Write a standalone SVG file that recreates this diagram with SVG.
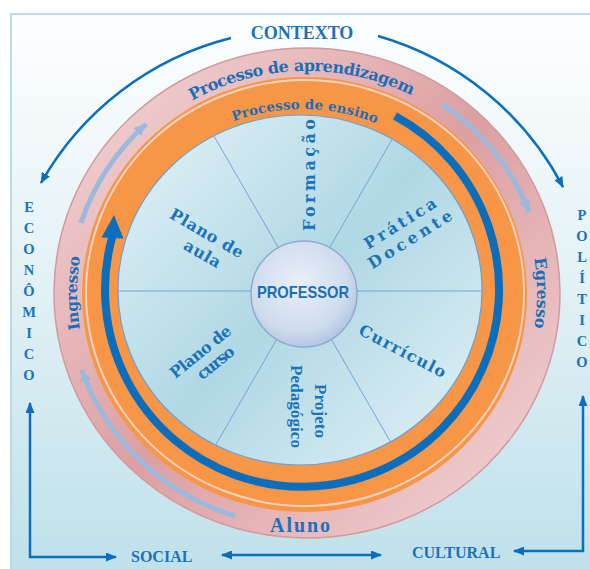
<svg xmlns="http://www.w3.org/2000/svg" width="590" height="569" viewBox="0 0 590 569">
  <defs>
    <linearGradient id="bg" x1="0" y1="14" x2="0" y2="569" gradientUnits="userSpaceOnUse">
      <stop offset="0" stop-color="#fdfeff"/>
      <stop offset="0.45" stop-color="#e4f2f6"/>
      <stop offset="1" stop-color="#bfe1ea"/>
    </linearGradient>
    <linearGradient id="pinkGrad" x1="60" y1="50" x2="555" y2="540" gradientUnits="userSpaceOnUse">
      <stop offset="0" stop-color="#f4d9da"/>
      <stop offset="0.5" stop-color="#dc9fa2"/>
      <stop offset="1" stop-color="#f4d9da"/>
    </linearGradient>
    <linearGradient id="discGrad" x1="118" y1="115" x2="482" y2="465" gradientUnits="userSpaceOnUse">
      <stop offset="0" stop-color="#e6f3f8"/>
      <stop offset="0.5" stop-color="#afd8e4"/>
      <stop offset="1" stop-color="#e4f2f7"/>
    </linearGradient>
    <radialGradient id="hubGrad" cx="0.45" cy="0.4" r="0.65">
      <stop offset="0" stop-color="#e9eff8"/>
      <stop offset="0.7" stop-color="#cfdbed"/>
      <stop offset="1" stop-color="#abc0de"/>
    </radialGradient>
    <clipPath id="discClip">
      <ellipse cx="300" cy="290" rx="182" ry="175"/>
    </clipPath>
    <marker id="ah" viewBox="0 0 11 9" refX="10" refY="4.5" markerWidth="11" markerHeight="9" markerUnits="userSpaceOnUse" orient="auto-start-reverse">
      <path d="M0,0 L11,4.5 L0,9 z" fill="#0b6fbe"/>
    </marker>
    <marker id="ahLight" viewBox="0 0 13 11" refX="12" refY="5.5" markerWidth="13" markerHeight="11" markerUnits="userSpaceOnUse" orient="auto">
      <path d="M0,0 L13,5.5 L0,11 z" fill="#9bb9dc"/>
    </marker>
    <!-- clockwise text paths, starting at the bottom of each ring -->
    <path id="learnPath" d="M307,515 A230,222 0 0 1 77,293 A230,222 0 0 1 307,71 A230,222 0 0 1 537,293 A230,222 0 0 1 307,515"/>
    <path id="teachPath" d="M302,481 A192,186 0 0 1 110,295 A192,186 0 0 1 302,109 A192,186 0 0 1 494,295 A192,186 0 0 1 302,481"/>
    <style>
      .ring { font-family: "DejaVu Serif", "Liberation Serif", serif; font-weight: bold; fill: #1b6fb9; }
      .sec { font-family: "DejaVu Serif", "Liberation Serif", serif; font-weight: bold; fill: #1a73ba; font-size: 16px; }
      .ctx { font-family: "Liberation Serif", serif; font-weight: bold; fill: #1b72ba; }
      .vert { font-family: "Liberation Serif", serif; font-weight: bold; fill: #1b72ba; font-size: 14.5px; text-anchor: middle; }
      .conn { fill: none; stroke: #0b6fbe; stroke-width: 2.5; }
      .flow { fill: none; stroke: #9bb9dc; stroke-width: 5; }
      .spoke { stroke: #76a3d8; stroke-width: 1; }
    </style>
  </defs>

  <!-- page and frame -->
  <rect x="0" y="0" width="590" height="569" fill="#ffffff"/>
  <rect x="11" y="14" width="600" height="600" fill="url(#bg)" stroke="#a6d2de" stroke-width="1.5"/>

  <!-- outer ring: learning process -->
  <g id="ring-aprendizagem">
    <ellipse cx="307" cy="293" rx="253" ry="245" fill="url(#pinkGrad)" stroke="#d3999d" stroke-width="1.5"/>
    <text class="ring" font-size="16"><textPath href="#learnPath" startOffset="49.6%" text-anchor="middle" textLength="228">Processo de aprendizagem</textPath></text>
    <text class="ring" font-size="15.5"><textPath href="#learnPath" startOffset="25%" text-anchor="middle" textLength="73">Ingresso</textPath></text>
    <text class="ring" font-size="16"><textPath href="#learnPath" startOffset="75%" text-anchor="middle" textLength="70">Egresso</textPath></text>
    <text class="ctx" x="300" y="532" font-size="20" text-anchor="middle" textLength="60">Aluno</text>
  </g>

  <!-- middle ring: teaching process -->
  <g id="ring-ensino">
    <ellipse cx="304.5" cy="294.5" rx="222.5" ry="217.5" fill="#f79646"/>
    <ellipse cx="305" cy="293" rx="219" ry="213" fill="none" stroke="#fbd3c2" stroke-width="2"/>
    <text class="ring" font-size="13.5"><textPath href="#teachPath" startOffset="50.25%" text-anchor="middle" textLength="146">Processo de ensino</textPath></text>
  </g>

  <!-- inner disc with six sectors -->
  <g id="disc">
    <ellipse cx="300" cy="290" rx="182" ry="175" fill="url(#discGrad)" stroke="#6e9ed6" stroke-width="1.2"/>
    <g clip-path="url(#discClip)">
      <line class="spoke" x1="179" y1="75.5" x2="429" y2="508.5"/>
      <line class="spoke" x1="429" y1="75.5" x2="179" y2="508.5"/>
      <line class="spoke" x1="54" y1="291" x2="554" y2="291"/>
    </g>
  </g>

  <g id="sector-formacao">
    <text class="sec" font-size="17.5" transform="translate(315,175) rotate(-90)" text-anchor="middle" textLength="112">Formação</text>
  </g>
  <g id="sector-pratica">
    <text class="sec" transform="translate(403,228) rotate(-32)" text-anchor="middle" textLength="82">Prática</text>
    <text class="sec" transform="translate(413,244) rotate(-32)" text-anchor="middle" textLength="96">Docente</text>
  </g>
  <g id="sector-curriculo">
    <text class="sec" font-size="16.5" transform="translate(400,356) rotate(27.6)" text-anchor="middle" textLength="96">Currículo</text>
  </g>
  <g id="sector-projeto">
    <text class="ctx" font-size="17" transform="translate(315,411) rotate(90)" text-anchor="middle" textLength="54">Projeto</text>
    <text class="ctx" font-size="17" transform="translate(290.5,406.5) rotate(90)" text-anchor="middle" textLength="83">Pedagógico</text>
  </g>
  <g id="sector-plano-curso">
    <text class="sec" transform="translate(204,356) rotate(-39)" text-anchor="middle" textLength="74">Plano de</text>
    <text class="sec" transform="translate(219,367) rotate(-39)" text-anchor="middle" textLength="43">curso</text>
  </g>
  <g id="sector-plano-aula">
    <text class="sec" transform="translate(204,238) rotate(30)" text-anchor="middle" textLength="82">Plano de</text>
    <text class="sec" transform="translate(199.6,258.5) rotate(30)" text-anchor="middle" textLength="40">aula</text>
  </g>

  <!-- hub -->
  <g id="professor">
    <circle cx="304" cy="294" r="53" fill="url(#hubGrad)" stroke="#8eaad2" stroke-width="1.5"/>
    <text x="303" y="297.5" font-family="Liberation Sans, Arial, sans-serif" font-weight="bold" font-size="17" fill="#1a70b8" text-anchor="middle" textLength="92" lengthAdjust="spacingAndGlyphs">PROFESSOR</text>
  </g>

  <!-- context labels -->
  <g id="context-labels">
    <text class="ctx" x="302" y="39" font-size="18" text-anchor="middle">CONTEXTO</text>
    <text class="ctx" x="131" y="562" font-size="16">SOCIAL</text>
    <text class="ctx" x="412" y="558" font-size="16">CULTURAL</text>
    <g id="economico">
      <text class="vert" x="29" y="211.6">E</text>
      <text class="vert" x="29" y="232.6">C</text>
      <text class="vert" x="29" y="253.6">O</text>
      <text class="vert" x="29" y="274.6">N</text>
      <text class="vert" x="29" y="295.6">Ô</text>
      <text class="vert" x="29" y="316.6">M</text>
      <text class="vert" x="29" y="337.6">I</text>
      <text class="vert" x="29" y="358.6">C</text>
      <text class="vert" x="29" y="379.6">O</text>
    </g>
    <g id="politico">
      <text class="vert" x="582" y="219.6">P</text>
      <text class="vert" x="582" y="240.6">O</text>
      <text class="vert" x="582" y="261.6">L</text>
      <text class="vert" x="582" y="282.6">Í</text>
      <text class="vert" x="582" y="303.6">T</text>
      <text class="vert" x="582" y="324.6">I</text>
      <text class="vert" x="582" y="345.6">C</text>
      <text class="vert" x="582" y="366.6">O</text>
    </g>
  </g>

  <!-- connectors -->
  <g id="connectors">
    <!-- teaching cycle arrow -->
    <path d="M395,116 A197,197 0 1 1 112.5,236" fill="none" stroke="#0a6ebd" stroke-width="8"/>
    <polygon points="114,215 123.5,238.5 101.5,237.5" fill="#0a6ebd"/>
    <!-- learning flow arrows -->
    <path class="flow" d="M81,223 A238,232 0 0 1 146.2,124" marker-end="url(#ahLight)"/>
    <path class="flow" d="M442,104 A238,232 0 0 1 529.2,212" marker-end="url(#ahLight)"/>
    <path class="flow" d="M235,516 A238,232 0 0 1 81.8,370" marker-end="url(#ahLight)"/>
    <!-- context arcs -->
    <path class="conn" stroke-width="3" d="M231,38 A303,303 0 0 0 41,183" marker-end="url(#ah)"/>
    <path class="conn" stroke-width="3" d="M378,36 A303,303 0 0 1 563,187" marker-end="url(#ah)"/>
    <!-- bottom links -->
    <path class="conn" d="M30,403 V557 H116" marker-start="url(#ah)" marker-end="url(#ah)"/>
    <path class="conn" d="M583,396 V551 H514" marker-start="url(#ah)" marker-end="url(#ah)"/>
    <path class="conn" d="M222,555 H381" marker-start="url(#ah)" marker-end="url(#ah)"/>
  </g>
</svg>
